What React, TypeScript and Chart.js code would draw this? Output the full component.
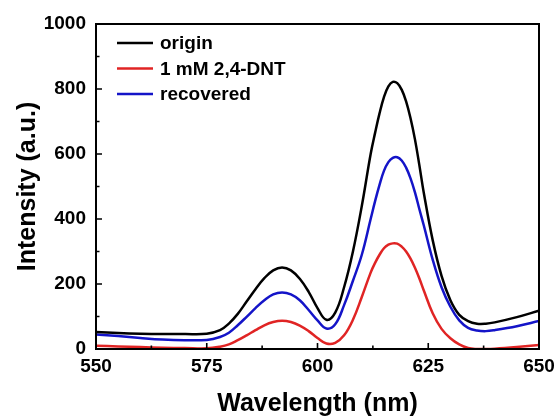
import React, { useEffect, useRef } from "react";
import { Chart, registerables } from "chart.js";

Chart.register(...registerables);

const wavelengths = [550, 555, 560, 565, 570, 575, 578, 580, 582, 584, 586, 588, 590, 592, 594, 596, 598, 600, 602, 604, 606, 608, 610, 612, 613, 614, 615, 616, 617, 618, 619, 620, 621, 622, 623, 624, 626, 628, 630, 632, 634, 636, 638, 640, 645, 650];

const origin = [52, 49, 47, 46, 46, 47, 58, 78, 108, 146, 184, 218, 242, 251, 242, 216, 176, 126, 90, 112, 190, 300, 440, 600, 665, 725, 775, 808, 822, 818, 798, 762, 710, 645, 565, 480, 335, 225, 150, 105, 86, 78, 78, 82, 98, 118];
const dnt = [10, 8, 6, 4, 3, 2, 7, 14, 27, 42, 58, 73, 83, 87, 83, 72, 55, 34, 17, 19, 42, 90, 160, 235, 265, 290, 310, 321, 325, 324, 315, 300, 278, 250, 217, 180, 110, 62, 33, 14, 3, 0, 0, 1, 6, 12];
const recovered = [45, 40, 34, 29, 27, 28, 37, 50, 73, 99, 126, 150, 168, 174, 168, 150, 120, 88, 63, 76, 135, 210, 290, 400, 455, 505, 548, 575, 588, 590, 580, 558, 525, 482, 430, 380, 275, 190, 130, 88, 65, 57, 55, 58, 70, 86];

const seriesLabels = ["origin", "1 mM 2,4-DNT", "recovered"];
const xMajorTicks = [550, 575, 600, 625, 650];
const xMinorTicks = [562.5, 587.5, 612.5, 637.5];
const yMajorTicks = [0, 200, 400, 600, 800, 1000];
const yMinorTicks = [100, 300, 500, 700, 900];

const FONT = "'Liberation Sans', Arial, sans-serif";

const framePlugin = {
  id: "frameTicks",
  afterDraw(chart: any) {
    const { ctx, chartArea, scales } = chart;
    const { left, right, top, bottom } = chartArea;
    ctx.save();
    ctx.strokeStyle = "#000";
    ctx.lineWidth = 2;
    ctx.strokeRect(left, top, right - left, bottom - top);
    ctx.lineWidth = 1.6;
    ctx.beginPath();
    xMajorTicks.forEach((v) => {
      const px = scales.x.getPixelForValue(v);
      ctx.moveTo(px, bottom);
      ctx.lineTo(px, bottom - 6);
    });
    xMinorTicks.forEach((v) => {
      const px = scales.x.getPixelForValue(v);
      ctx.moveTo(px, bottom);
      ctx.lineTo(px, bottom - 3.5);
    });
    yMajorTicks.forEach((v) => {
      const py = scales.y.getPixelForValue(v);
      ctx.moveTo(left, py);
      ctx.lineTo(left + 6, py);
    });
    yMinorTicks.forEach((v) => {
      const py = scales.y.getPixelForValue(v);
      ctx.moveTo(left, py);
      ctx.lineTo(left + 3.5, py);
    });
    ctx.stroke();

    // legend
    const lx = left + 21;
    const lineLen = 36;
    const ly0 = top + 19;
    const gap = 25.5;
    ctx.font = `bold 19px ${FONT}`;
    ctx.textBaseline = "middle";
    ctx.textAlign = "left";
    chart.data.datasets.forEach((ds: any, i: number) => {
      const y = ly0 + i * gap;
      ctx.strokeStyle = ds.borderColor;
      ctx.lineWidth = 2.5;
      ctx.beginPath();
      ctx.moveTo(lx, y);
      ctx.lineTo(lx + lineLen, y);
      ctx.stroke();
      ctx.fillStyle = "#000";
      ctx.fillText(ds.label, lx + lineLen + 7, y + 1);
    });
    ctx.restore();
  },
};

export default function App() {
  const ref = useRef<HTMLCanvasElement>(null);
  useEffect(() => {
    if (!ref.current) return;
    const mk = (vals: number[]) => wavelengths.map((x, i) => ({ x, y: vals[i] }));
    const chart = new Chart(ref.current, {
      type: "line",
      data: {
        datasets: [
          { label: seriesLabels[0], data: mk(origin), borderColor: "#000000" },
          { label: seriesLabels[1], data: mk(dnt), borderColor: "#e02424" },
          { label: seriesLabels[2], data: mk(recovered), borderColor: "#1414c8" },
        ].map((d) => ({ ...d, borderWidth: 2.5, pointRadius: 0, fill: false, tension: 0.4 })),
      },
      options: {
        animation: false,
        responsive: false,
        layout: { padding: { top: 24, right: 17, left: 0, bottom: 0 } },
        plugins: { legend: { display: false }, tooltip: { enabled: false } },
        scales: {
          x: {
            type: "linear",
            min: 550,
            max: 650,
            afterFit: (s: any) => { s.height = 70; s.paddingLeft = 0; s.paddingRight = 0; },
            afterBuildTicks: (s: any) => { s.ticks = xMajorTicks.map((v) => ({ value: v })); },
            grid: { display: false, drawTicks: false },
            border: { display: false },
            ticks: { color: "#000", padding: 6, callback: (v: any) => String(v), font: { family: FONT, size: 19, weight: "bold" } },
            title: { display: true, text: "Wavelength (nm)", color: "#000", padding: { top: 0, bottom: 0 }, font: { family: FONT, size: 25, weight: "bold" } },
          },
          y: {
            type: "linear",
            min: 0,
            max: 1000,
            afterFit: (s: any) => { s.width = 96; s.paddingTop = 0; s.paddingBottom = 0; },
            afterBuildTicks: (s: any) => { s.ticks = yMajorTicks.map((v) => ({ value: v })); },
            grid: { display: false, drawTicks: false },
            border: { display: false },
            ticks: { color: "#000", padding: 10, callback: (v: any) => String(v), font: { family: FONT, size: 19, weight: "bold" } },
            title: { display: true, text: "Intensity (a.u.)", color: "#000", padding: { top: 13, bottom: 0 }, font: { family: FONT, size: 25, weight: "bold" } },
          },
        },
      },
      plugins: [framePlugin],
    });
    return () => chart.destroy();
  }, []);
  return (
    <div style={{ position: "absolute", left: 0, top: 0, width: 556, height: 419, background: "#fff" }}>
      <canvas ref={ref} width={556} height={419} style={{ display: "block" }} />
    </div>
  );
}
